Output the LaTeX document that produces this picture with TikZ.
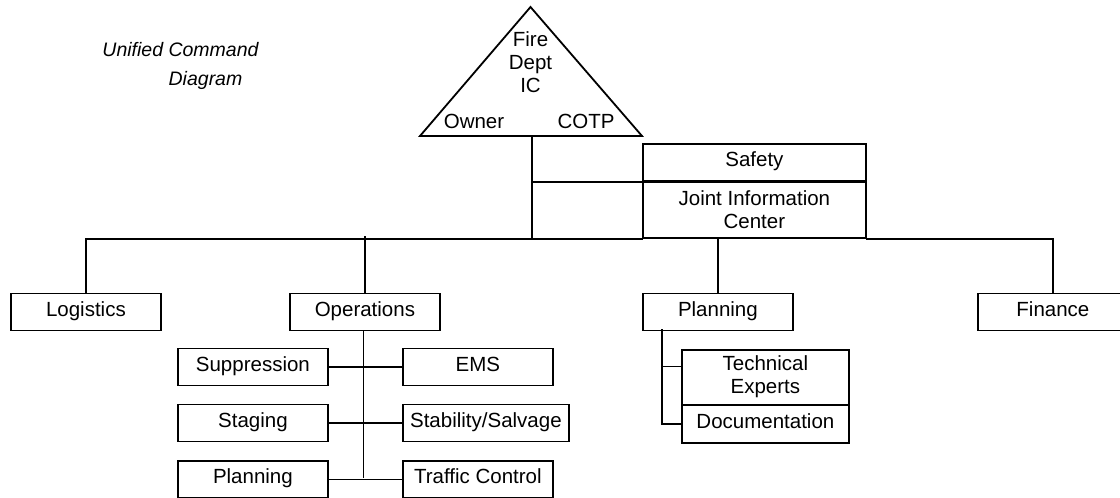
\documentclass[tikz,border=0pt]{standalone}
\usepackage{fontspec}
\setmainfont{Liberation Sans}
\begin{document}
\begin{tikzpicture}[x=1pt,y=-1pt,
  every node/.style={inner sep=0pt, font=\fontsize{20.5}{23}\selectfont},
  line/.style={line width=1.8pt, line cap=rect},
  box/.style={draw, line width=1.8pt, anchor=north west, minimum height=37pt,
              text height=15pt, text depth=6pt},
  tallbox/.style={draw, line width=1.8pt, anchor=north west, align=center},
  caption/.style={font=\fontsize{19.5}{23}\selectfont\itshape, anchor=base}]
\useasboundingbox (0,0) rectangle (1120,498);
\clip (0,0) rectangle (1120,498);

% title
\node[caption] (title1) at (180.5,56) {Unified Command};
\node[caption] (title2) at (205.5,85) {Diagram};

% unified command triangle
\coordinate (apex) at (530.5,7);
\coordinate (tbl) at (420,136);
\coordinate (tbr) at (642,136);
\draw[line, line join=miter] (apex) -- (tbr) -- (tbl) -- cycle;
\node[align=center, anchor=north] (fire) at (530.5,31.5) {Fire\\Dept\\IC};
\node[anchor=base] (owner) at (474,128) {Owner};
\node[anchor=base] (cotp) at (586,128) {COTP};

% command staff
\node[box, minimum width=223pt] (safety) at (642,143) {Safety};
\node[tallbox, minimum width=223pt, minimum height=55.5pt] (jic) at (642,181.5)
  {Joint Information\\Center};

% general staff
\node[box, minimum width=150pt] (logistics) at (10,292.5) {Logistics};
\node[box, minimum width=150pt] (operations) at (289,292.5) {Operations};
\node[box, minimum width=150pt] (planning) at (642,292.5) {Planning};
\node[box, minimum width=150pt] (finance) at (977,292.5) {Finance};

% operations branches
\node[box, minimum width=150pt] (suppression) at (177,347.5) {Suppression};
\node[box, minimum width=150pt] (ems) at (402,347.5) {EMS};
\node[box, minimum width=150pt] (staging) at (177,403.5) {Staging};
\node[box, minimum width=166pt] (stability) at (402,403.5) {Stability/Salvage};
\node[box, minimum width=150pt] (opsplanning) at (177,460) {Planning};
\node[box, minimum width=150pt] (traffic) at (402,460) {Traffic Control};

% planning branches
\node[tallbox, minimum width=167pt, minimum height=54.5pt] (technical) at (681,349)
  {Technical\\Experts};
\node[box, minimum width=167pt, minimum height=37.5pt] (documentation) at (681,404.5)
  {Documentation};

% connectors
\coordinate (trunktop) at (532,136);
\coordinate (hub) at (532,237);
\draw[line] (trunktop) -- (hub);
\draw[line] (trunktop |- safety.south west) -- (safety.south west);
\draw[line] (logistics.north) |- (jic.south west);
\draw[line] (jic.south east) -| (finance.north);
\draw[line] (operations.north) -- (operations.north |- hub);
\draw[line] (planning.north |- jic.south) -- (planning.north);

\coordinate (opsend) at (363.5,477.5);
\draw[line] (operations.south -| opsend) -- (opsend);
\draw[line] (suppression.east) -- (ems.west);
\draw[line] (staging.east) -- (stability.west);
\draw[line] (opsplanning.east) -- (traffic.west);

\coordinate (plantop) at (662,329.5);
\coordinate (techjoin) at (662,366.5);
\draw[line] (plantop) |- (documentation.west);
\draw[line] (techjoin) -- (techjoin -| technical.west);
\end{tikzpicture}
\end{document}
